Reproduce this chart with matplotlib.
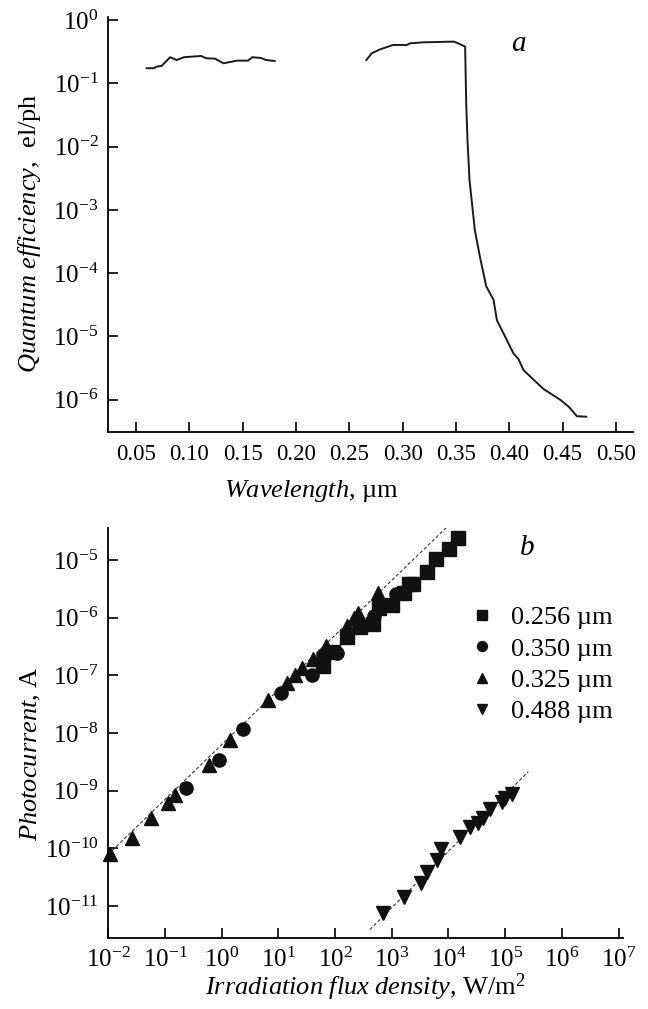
import numpy as np
import matplotlib
matplotlib.use("Agg")
import matplotlib.pyplot as plt
from matplotlib.ticker import FixedLocator, NullLocator, LogFormatterMathtext

# (a) quantum efficiency vs wavelength, two measured pieces
wl_short = [0.060, 0.067, 0.069, 0.074, 0.082, 0.088, 0.095, 0.111, 0.116, 0.124,
            0.132, 0.145, 0.155, 0.159, 0.167, 0.172, 0.180]
qe_short = [0.173, 0.173, 0.183, 0.188, 0.258, 0.233, 0.258, 0.270, 0.248, 0.245,
            0.207, 0.228, 0.228, 0.258, 0.251, 0.233, 0.225]

wl_long = [0.266, 0.271, 0.279, 0.291, 0.304, 0.307, 0.320, 0.348, 0.352, 0.3586,
           0.3596, 0.3608, 0.3627, 0.3677, 0.3725, 0.3784, 0.3852, 0.3884, 0.3946,
           0.4039, 0.4086, 0.4133, 0.4212, 0.4321, 0.4478, 0.4556, 0.4634, 0.4722]
qe_long = [0.233, 0.298, 0.344, 0.403, 0.403, 0.428, 0.444, 0.455, 0.428, 0.379,
           4.83e-2, 1.27e-2, 2.95e-3, 4.8e-4, 1.8e-4, 6.2e-5, 3.8e-5, 1.8e-5, 1.12e-5,
           5.4e-6, 4.4e-6, 2.95e-6, 2.2e-6, 1.48e-6, 1.0e-6, 7.8e-7, 5.5e-7, 5.4e-7]

wl_ticks = [0.05, 0.10, 0.15, 0.20, 0.25, 0.30, 0.35, 0.40, 0.45, 0.50]
qe_ticks = [1e-6, 1e-5, 1e-4, 1e-3, 1e-2, 1e-1, 1e0]

# (b) photocurrent vs irradiation flux density
flux_256 = [1.49e4, 1.03e4, 6.0e3, 4.12e3, 2.39e3, 2.0e3, 1.64e3, 995, 603, 460,
            275, 160, 93, 60]
cur_256 = [2.38e-5, 1.53e-5, 1.03e-5, 6.3e-6, 3.84e-6, 3.8e-6, 2.64e-6, 1.66e-6,
           1.45e-6, 7.8e-7, 6.8e-7, 4.7e-7, 2.57e-7, 1.45e-7]

flux_350 = [1.17e3, 482, 261, 109, 60, 39, 11.1, 2.4, 0.91, 0.234]
cur_350 = [2.57e-6, 1.07e-6, 7.2e-7, 2.41e-7, 2.25e-7, 1.01e-7, 5.0e-8, 1.16e-8,
           3.4e-9, 1.13e-9]

flux_325 = [578, 256, 215, 160, 69, 41, 25.8, 19.6, 14, 6.6, 1.4, 0.60, 0.150,
            0.114, 0.056, 0.0265, 0.0107]
cur_325 = [2.71e-6, 1.19e-6, 9.8e-7, 7.2e-7, 3.24e-7, 1.9e-7, 1.32e-7, 1.01e-7,
           7.3e-8, 3.7e-8, 7.6e-9, 2.8e-9, 8.4e-10, 6.0e-10, 3.3e-10, 1.49e-10, 8.0e-11]

flux_488 = [690, 1.64e3, 3.24e3, 4.12e3, 6.2e3, 7.3e3, 1.6e4, 2.39e4, 3.36e4,
            4.1e4, 5.5e4, 8.7e4, 9.9e4, 1.3e5]
cur_488 = [7.5e-12, 1.42e-11, 2.54e-11, 3.94e-11, 6.3e-11, 9.7e-11, 1.59e-10,
           2.38e-10, 2.79e-10, 3.3e-10, 4.9e-10, 6.4e-10, 7.4e-10, 8.7e-10]

# dashed guide lines (end points)
fit_uv_x = [1.0e-2, 9.3e3]
fit_uv_y = [7.9e-11, 3.7e-5]
fit_vis_x = [410, 2.55e5]
fit_vis_y = [3.9e-12, 2.13e-9]

flux_ticks = [1e-2, 1e-1, 1e0, 1e1, 1e2, 1e3, 1e4, 1e5, 1e6, 1e7]
cur_ticks = [1e-11, 1e-10, 1e-9, 1e-8, 1e-7, 1e-6, 1e-5]

legend_labels = ["0.256 µm", "0.350 µm", "0.325 µm", "0.488 µm"]

plt.rcParams["font.family"] = ["Liberation Serif", "DejaVu Serif"]
plt.rcParams["mathtext.fontset"] = "custom"
plt.rcParams["mathtext.rm"] = "Liberation Serif"
plt.rcParams["mathtext.it"] = "Liberation Serif:italic"
plt.rcParams["axes.linewidth"] = 1.3

W, H = 648, 1009
fig = plt.figure(figsize=(W / 100, H / 100), dpi=100)

label_fs = 19
log_fs = 18

def style(ax, fs):
    ax.spines["top"].set_visible(False)
    ax.spines["right"].set_visible(False)
    ax.tick_params(which="major", direction="in", length=7, width=1.2,
                   labelsize=fs, pad=7)
    ax.tick_params(which="minor", length=0)

# ---- panel a
ax1 = fig.add_axes([108.3 / W, 1 - 432 / H, (633 - 108.3) / W, (432 - 17) / H])
ax1.plot(wl_short, qe_short, color="#1a1a1a", lw=1.4)
ax1.plot(wl_long, qe_long, color="#1a1a1a", lw=1.4)
ax1.set_yscale("log")
ax1.set_xlim(0.024, 0.516)
ax1.set_ylim(10 ** -6.509, 10 ** 0.047)
ax1.xaxis.set_major_locator(FixedLocator(wl_ticks))
ax1.set_xticklabels([f"{t:.2f}" for t in wl_ticks])
ax1.yaxis.set_major_locator(FixedLocator(qe_ticks))
ax1.yaxis.set_major_formatter(LogFormatterMathtext())
ax1.yaxis.set_minor_locator(NullLocator())
style(ax1, log_fs)
ax1.tick_params(axis="x", labelsize=16.5, pad=9)
ax1.set_xlabel(r"$\mathit{Wavelength}$, µm", fontsize=label_fs)
ax1.xaxis.set_label_coords(0.388, -0.112)
ax1.set_ylabel(r"$\mathit{Quantum\ efficiency}$,  el/ph", fontsize=label_fs)
ax1.yaxis.set_label_coords(-0.124, 0.48)
ax1.text(0.781, 0.935, "a", transform=ax1.transAxes, fontsize=21, style="italic",
         ha="center", va="center")

# ---- panel b
ax2 = fig.add_axes([108.3 / W, 1 - 937.7 / H, (623 - 108.3) / W, (937.7 - 528) / H])
ax2.set_xscale("log")
ax2.set_yscale("log")
ax2.plot(fit_uv_x, fit_uv_y, color="#333333", lw=0.8, ls=(0, (3, 2)))
ax2.plot(fit_vis_x, fit_vis_y, color="#333333", lw=0.8, ls=(0, (3, 2)))
mk = dict(ls="none", color="#111111", ms=9.5, clip_on=False)
ax2.plot(flux_256, cur_256, marker="s", label=legend_labels[0], **mk)
ax2.plot(flux_350, cur_350, marker="o", label=legend_labels[1], **mk)
ax2.plot(flux_325, cur_325, marker="^", label=legend_labels[2], **mk)
ax2.plot(flux_488, cur_488, marker="v", label=legend_labels[3], **mk)
ax2.set_xlim(1e-2, 10 ** 7.078)
ax2.set_ylim(10 ** -11.55, 10 ** -4.445)
ax2.xaxis.set_major_locator(FixedLocator(flux_ticks))
ax2.yaxis.set_major_locator(FixedLocator(cur_ticks))
ax2.xaxis.set_major_formatter(LogFormatterMathtext())
ax2.yaxis.set_major_formatter(LogFormatterMathtext())
ax2.xaxis.set_minor_locator(NullLocator())
ax2.yaxis.set_minor_locator(NullLocator())
style(ax2, log_fs)
ax2.set_xlabel(r"$\mathit{Irradiation\ flux\ density}$, W/m$^2$", fontsize=label_fs)
ax2.xaxis.set_label_coords(0.5, -0.082)
ax2.set_ylabel(r"$\mathit{Photocurrent}$, A", fontsize=label_fs)
ax2.yaxis.set_label_coords(-0.127, 0.45)
ax2.text(0.813, 0.951, "b", transform=ax2.transAxes, fontsize=21, style="italic",
         ha="center", va="center")

ax2.legend(loc="center left", bbox_to_anchor=(469 / W, 1 - 664.5 / H),
           bbox_transform=fig.transFigure, frameon=False, fontsize=19,
           handlelength=1.0, handletextpad=0.6, labelspacing=0.3,
           borderpad=0, borderaxespad=0, markerscale=0.75)

fig.savefig("out.png", dpi=100)
